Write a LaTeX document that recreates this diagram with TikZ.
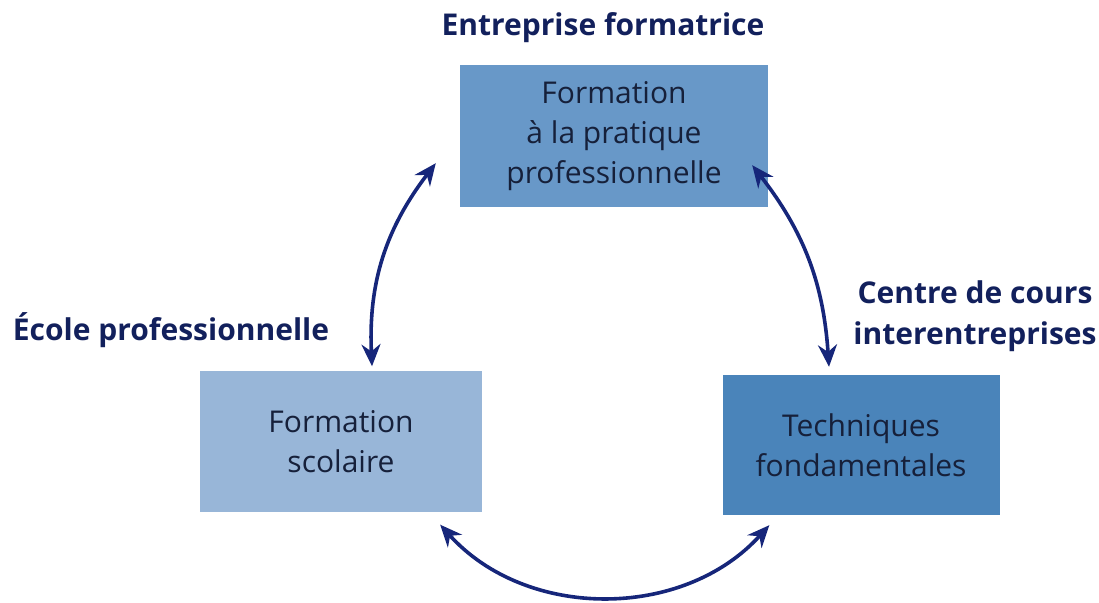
\documentclass[tikz,border=0pt]{standalone}
\usepackage{fontspec}
\setmainfont{Open Sans}
\usetikzlibrary{positioning, arrows.meta}
\definecolor{fillTop}{RGB}{104, 152, 200}
\definecolor{fillLeft}{RGB}{152, 182, 216}
\definecolor{fillRight}{RGB}{74, 132, 186}
\definecolor{textDark}{RGB}{22, 32, 58}
\definecolor{labelBlue}{RGB}{18, 32, 92}
\definecolor{arrowBlue}{RGB}{22, 38, 122}

\begin{document}
\begin{tikzpicture}[x=1pt, y=1pt,
    box/.style={inner sep=0pt, align=center, text=textDark,
        font=\fontsize{30}{40}\selectfont},
    tag/.style={inner sep=0pt, align=center, text=labelBlue,
        font=\fontsize{30}{41}\selectfont\bfseries},
    link/.style={{Stealth[length=22pt, width=19pt]}-{Stealth[length=22pt, width=19pt]},
        line width=3.6pt, draw=arrowBlue}]
    \useasboundingbox (0,0) rectangle (1099,602);

    % Lernorte
    \node[box, fill=fillTop, minimum width=308, minimum height=142] (pratique) at (614,466)
        {Formation\\à la pratique\\professionnelle};
    \node[box, fill=fillLeft, minimum width=282, minimum height=141] (scolaire) at (341,160)
        {Formation\\scolaire};
    \node[box, fill=fillRight, minimum width=277, minimum height=140] (techniques) at (861,157)
        {Techniques\\fondamentales};

    % Beschriftungen
    \node[tag] (entreprise) at (603,574) {Entreprise formatrice};
    \node[tag] (ecole) at (171,272) {École professionnelle};
    \node[tag] (centre) at (975,286) {Centre de cours\\interentreprises};

    % Verbindungen
    \draw[link] ([shift={(-24,44)}]pratique.south west) to[bend right=20]
        ([shift={(31,5)}]scolaire.north);
    \draw[link] ([shift={(-16,42)}]pratique.south east) to[bend left=17]
        ([shift={(-32,8)}]techniques.north);
    \draw[link] ([shift={(-42,-12)}]scolaire.south east) to[bend right=48]
        ([shift={(47,-10)}]techniques.south west);
\end{tikzpicture}
\end{document}
